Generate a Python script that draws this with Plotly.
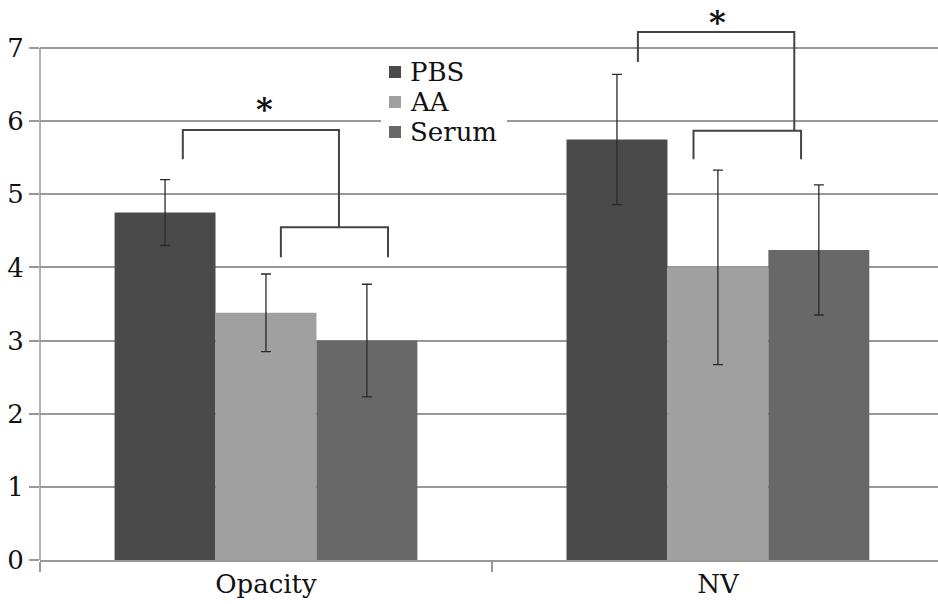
import plotly.graph_objects as go

categories = ["Opacity", "NV"]
series_names = ["PBS", "AA", "Serum"]
series_colors = ["#4a4a4a", "#a0a0a0", "#686868"]
values = {
    "PBS": [4.75, 5.75],
    "AA": [3.38, 4.00],
    "Serum": [3.00, 4.24],
}
errors = {
    "PBS": [0.45, 0.89],
    "AA": [0.53, 1.33],
    "Serum": [0.77, 0.89],
}
y_ticks = [0, 1, 2, 3, 4, 5, 6, 7]

# significance brackets (data coordinates): outer bracket, inner bracket, star position
brackets = [
    {"outer": [(-0.184, 5.48), (-0.184, 5.88), (0.1615, 5.88), (0.1615, 4.55)],
     "inner": [(0.033, 4.14), (0.033, 4.55), (0.270, 4.55), (0.270, 4.14)],
     "star": (-0.004, 6.17)},
    {"outer": [(0.823, 6.81), (0.823, 7.22), (1.169, 7.22), (1.169, 5.87)],
     "inner": [(0.946, 5.48), (0.946, 5.87), (1.184, 5.87), (1.184, 5.48)],
     "star": (1.0, 7.36)},
]

FONT = "DejaVu Serif"
FS = 26
xs = list(range(len(categories)))

fig = go.Figure()
for name, color in zip(series_names, series_colors):
    fig.add_trace(go.Bar(
        x=xs, y=values[name], name=name, marker_color=color,
        marker_line_width=0,
        error_y=dict(type="data", array=errors[name], color="#2a2a2a",
                     thickness=1.3, width=5),
        showlegend=False,
    ))

shapes = []
annotations = []
for b in brackets:
    for key in ("outer", "inner"):
        pts = b[key]
        path = "M " + " L ".join(f"{x},{y}" for x, y in pts)
        shapes.append(dict(type="path", path=path, xref="x", yref="y",
                           line=dict(color="#444444", width=2)))
    sx, sy = b["star"]
    annotations.append(dict(x=sx, y=sy, xref="x", yref="y", text="<b>*</b>",
                            showarrow=False, font=dict(family=FONT, size=32, color="#111")))

# y axis line from 0 to 7
shapes.append(dict(type="line", xref="paper", yref="y", x0=0, x1=0, y0=0, y1=7,
                   line=dict(color="#999999", width=1.5)))

# legend drawn in the plot (compact rows as in the reference)
W, H, L, T = 938, 604, 40, 0
PW, PH = W - L, 560
def px(xp):
    return (xp - L) / PW
def py(yp):
    return 1 - (yp - T) / PH

shapes.append(dict(type="rect", xref="paper", yref="paper",
                   x0=px(381), x1=px(507), y0=py(56), y1=py(148),
                   fillcolor="white", line=dict(width=0), layer="above"))
row0, row_step = 72, 30
for i, (name, color) in enumerate(zip(series_names, series_colors)):
    cy = row0 + i * row_step
    shapes.append(dict(type="rect", xref="paper", yref="paper",
                       x0=px(389), x1=px(401), y0=py(cy + 6), y1=py(cy - 6),
                       fillcolor=color, line=dict(width=0), layer="above"))
    annotations.append(dict(x=px(408), y=py(cy), xref="paper", yref="paper",
                            text=name, showarrow=False, xanchor="left", yanchor="middle",
                            font=dict(family=FONT, size=FS, color="#111")))

fig.update_layout(
    width=W, height=H,
    margin=dict(l=L, r=0, t=T, b=H - 560, autoexpand=False),
    paper_bgcolor="white", plot_bgcolor="white",
    barmode="group", bargap=0.33, bargroupgap=0,
    font=dict(family=FONT, size=FS, color="#111"),
    shapes=shapes, annotations=annotations,
    showlegend=False,
)
fig.update_xaxes(
    range=[-0.5, 1.487], tickmode="array", tickvals=xs, ticktext=categories,
    ticks="", showgrid=False, zeroline=False, automargin=False,
    showline=True, linecolor="#999999", linewidth=1.5,
    tickfont=dict(family=FONT, size=FS, color="#111"),
    minor=dict(tickmode="array", tickvals=[-0.5, 0.5, 1.5], ticks="outside",
               ticklen=10, tickcolor="#999999", tickwidth=1.5, showgrid=False),
)
fig.update_yaxes(
    range=[0, 560 / 73.14], tickmode="array", tickvals=y_ticks,
    ticks="outside", ticklen=10, tickcolor="#999999", tickwidth=1.5,
    showgrid=True, gridcolor="#999999", gridwidth=1.5,
    zeroline=False, showline=False, automargin=False,
    tickfont=dict(family=FONT, size=FS, color="#111"),
)

fig.write_html("out.html", config={"displayModeBar": False},
               post_script="document.body.style.margin='0px';")
